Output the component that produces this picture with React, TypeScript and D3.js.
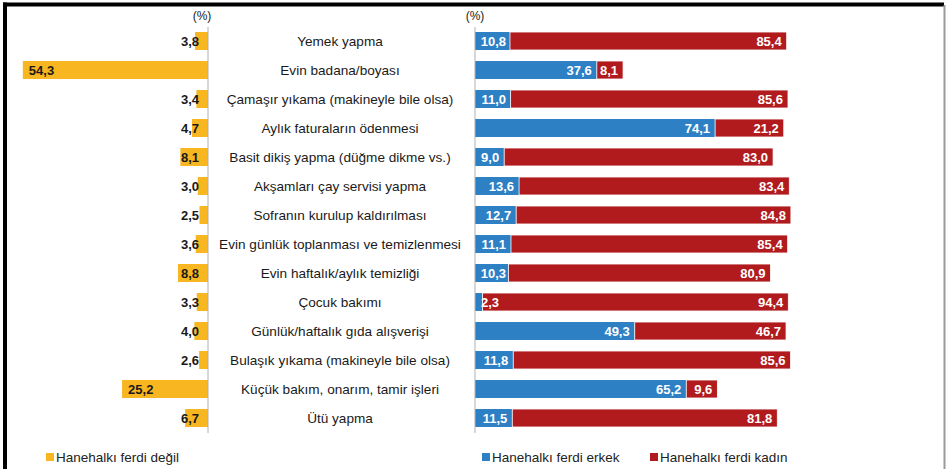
import React from "react";
import * as d3 from "d3";

const categories = [
  "Yemek yapma",
  "Evin badana/boyası",
  "Çamaşır yıkama (makineyle bile olsa)",
  "Aylık faturaların ödenmesi",
  "Basit dikiş yapma (düğme dikme vs.)",
  "Akşamları çay servisi yapma",
  "Sofranın kurulup kaldırılması",
  "Evin günlük toplanması ve temizlenmesi",
  "Evin haftalık/aylık temizliği",
  "Çocuk bakımı",
  "Günlük/haftalık gıda alışverişi",
  "Bulaşık yıkama (makineyle bile olsa)",
  "Küçük bakım, onarım, tamir işleri",
  "Ütü yapma",
];
const notMember = [3.8, 54.3, 3.4, 4.7, 8.1, 3.0, 2.5, 3.6, 8.8, 3.3, 4.0, 2.6, 25.2, 6.7];
const male = [10.8, 37.6, 11.0, 74.1, 9.0, 13.6, 12.7, 11.1, 10.3, 2.3, 49.3, 11.8, 65.2, 11.5];
const female = [85.4, 8.1, 85.6, 21.2, 83.0, 83.4, 84.8, 85.4, 80.9, 94.4, 46.7, 85.6, 9.6, 81.8];
const legendLabels = ["Hanehalkı ferdi değil", "Hanehalkı ferdi erkek", "Hanehalkı ferdi kadın"];
const unitLabel = "(%)";

const YELLOW = "#F8B621";
const BLUE = "#2E80C5";
const RED = "#B11B1E";
const FONT = "Arial, 'Liberation Sans', sans-serif";

const fmt = (v: number) => v.toFixed(1).replace(".", ",");

export default function App() {
  const W = 946;
  const H = 469;
  const y = d3
    .scaleBand<string>()
    .domain(categories)
    .range([26.5, 432.5])
    .paddingInner(0.38)
    .paddingOuter(0.19);
  const xL = d3.scaleLinear().domain([0, 60]).range([208, 208 - 60 * 3.41]);
  const xR = d3.scaleLinear().domain([0, 100]).range([475, 475 + 324]);
  const bh = y.bandwidth();
  const approxW = (s: string) => s.length * 7;

  return (
    <svg
      width={W}
      height={H}
      style={{ position: "absolute", left: 0, top: 0, background: "#fff" }}
      fontFamily={FONT}
    >
      <rect x={0} y={0} width={W} height={H} fill="#fff" />
      {/* frame */}
      <rect x={3} y={2.5} width={941} height={4} fill="#000" />
      <rect x={3} y={2.5} width={4} height={H} fill="#000" />
      <rect x={943.5} y={5} width={2} height={H} fill="#9a9a9a" />

      {/* unit labels */}
      <text x={202} y={20} textAnchor="middle" fontSize={12} fill="#222">{unitLabel}</text>
      <text x={475} y={20} textAnchor="middle" fontSize={12} fill="#222">{unitLabel}</text>

      {categories.map((c, i) => {
        const y0 = y(c)!;
        const cy = y0 + bh / 2;
        const lEnd = xL(notMember[i]);
        const lStart = lEnd + 6;
        const lw = approxW(fmt(notMember[i]));
        const leftLabelAnchorEnd = lStart + lw > 199;
        const mEnd = xR(male[i]);
        const fEnd = xR(male[i] + female[i]);
        const mLabelEnd = Math.max(mEnd - 5, 478 + approxW(fmt(male[i])));
        return (
          <g key={c}>
            <rect x={lEnd} y={y0} width={xL(0) - lEnd} height={bh} fill={YELLOW} />
            <rect x={xR(0)} y={y0} width={mEnd - xR(0)} height={bh} fill={BLUE} />
            <rect x={mEnd} y={y0} width={fEnd - mEnd} height={bh} fill={RED} stroke="#fff" strokeWidth={0.8} />
            <text
              x={leftLabelAnchorEnd ? 199 : lStart}
              y={cy}
              dy="0.36em"
              textAnchor={leftLabelAnchorEnd ? "end" : "start"}
              fontSize={13}
              fontWeight="bold"
              fill="#1a1a1a"
            >
              {fmt(notMember[i])}
            </text>
            <text x={340} y={cy} dy="0.36em" textAnchor="middle" fontSize={13.6} fill="#1a1a1a">
              {c}
            </text>
            <text x={mLabelEnd} y={cy} dy="0.36em" textAnchor="end" fontSize={13} fontWeight="bold" fill="#fff">
              {fmt(male[i])}
            </text>
            <text x={fEnd - 5} y={cy} dy="0.36em" textAnchor="end" fontSize={13} fontWeight="bold" fill="#fff">
              {fmt(female[i])}
            </text>
          </g>
        );
      })}

      {/* axis lines */}
      <line x1={xL(0)} x2={xL(0)} y1={27} y2={433} stroke="#b0b0b0" strokeWidth={1} />
      <line x1={xR(0)} x2={xR(0)} y1={27} y2={433} stroke="#b0b0b0" strokeWidth={1} />

      {/* legend */}
      <rect x={46} y={453} width={8} height={8} fill={YELLOW} />
      <text x={56} y={457} dy="0.36em" fontSize={13.5} fill="#222">{legendLabels[0]}</text>
      <rect x={482} y={453} width={8} height={8} fill={BLUE} />
      <text x={492} y={457} dy="0.36em" fontSize={13.5} fill="#222">{legendLabels[1]}</text>
      <rect x={650} y={453} width={8} height={8} fill={RED} />
      <text x={660} y={457} dy="0.36em" fontSize={13.5} fill="#222">{legendLabels[2]}</text>
    </svg>
  );
}
